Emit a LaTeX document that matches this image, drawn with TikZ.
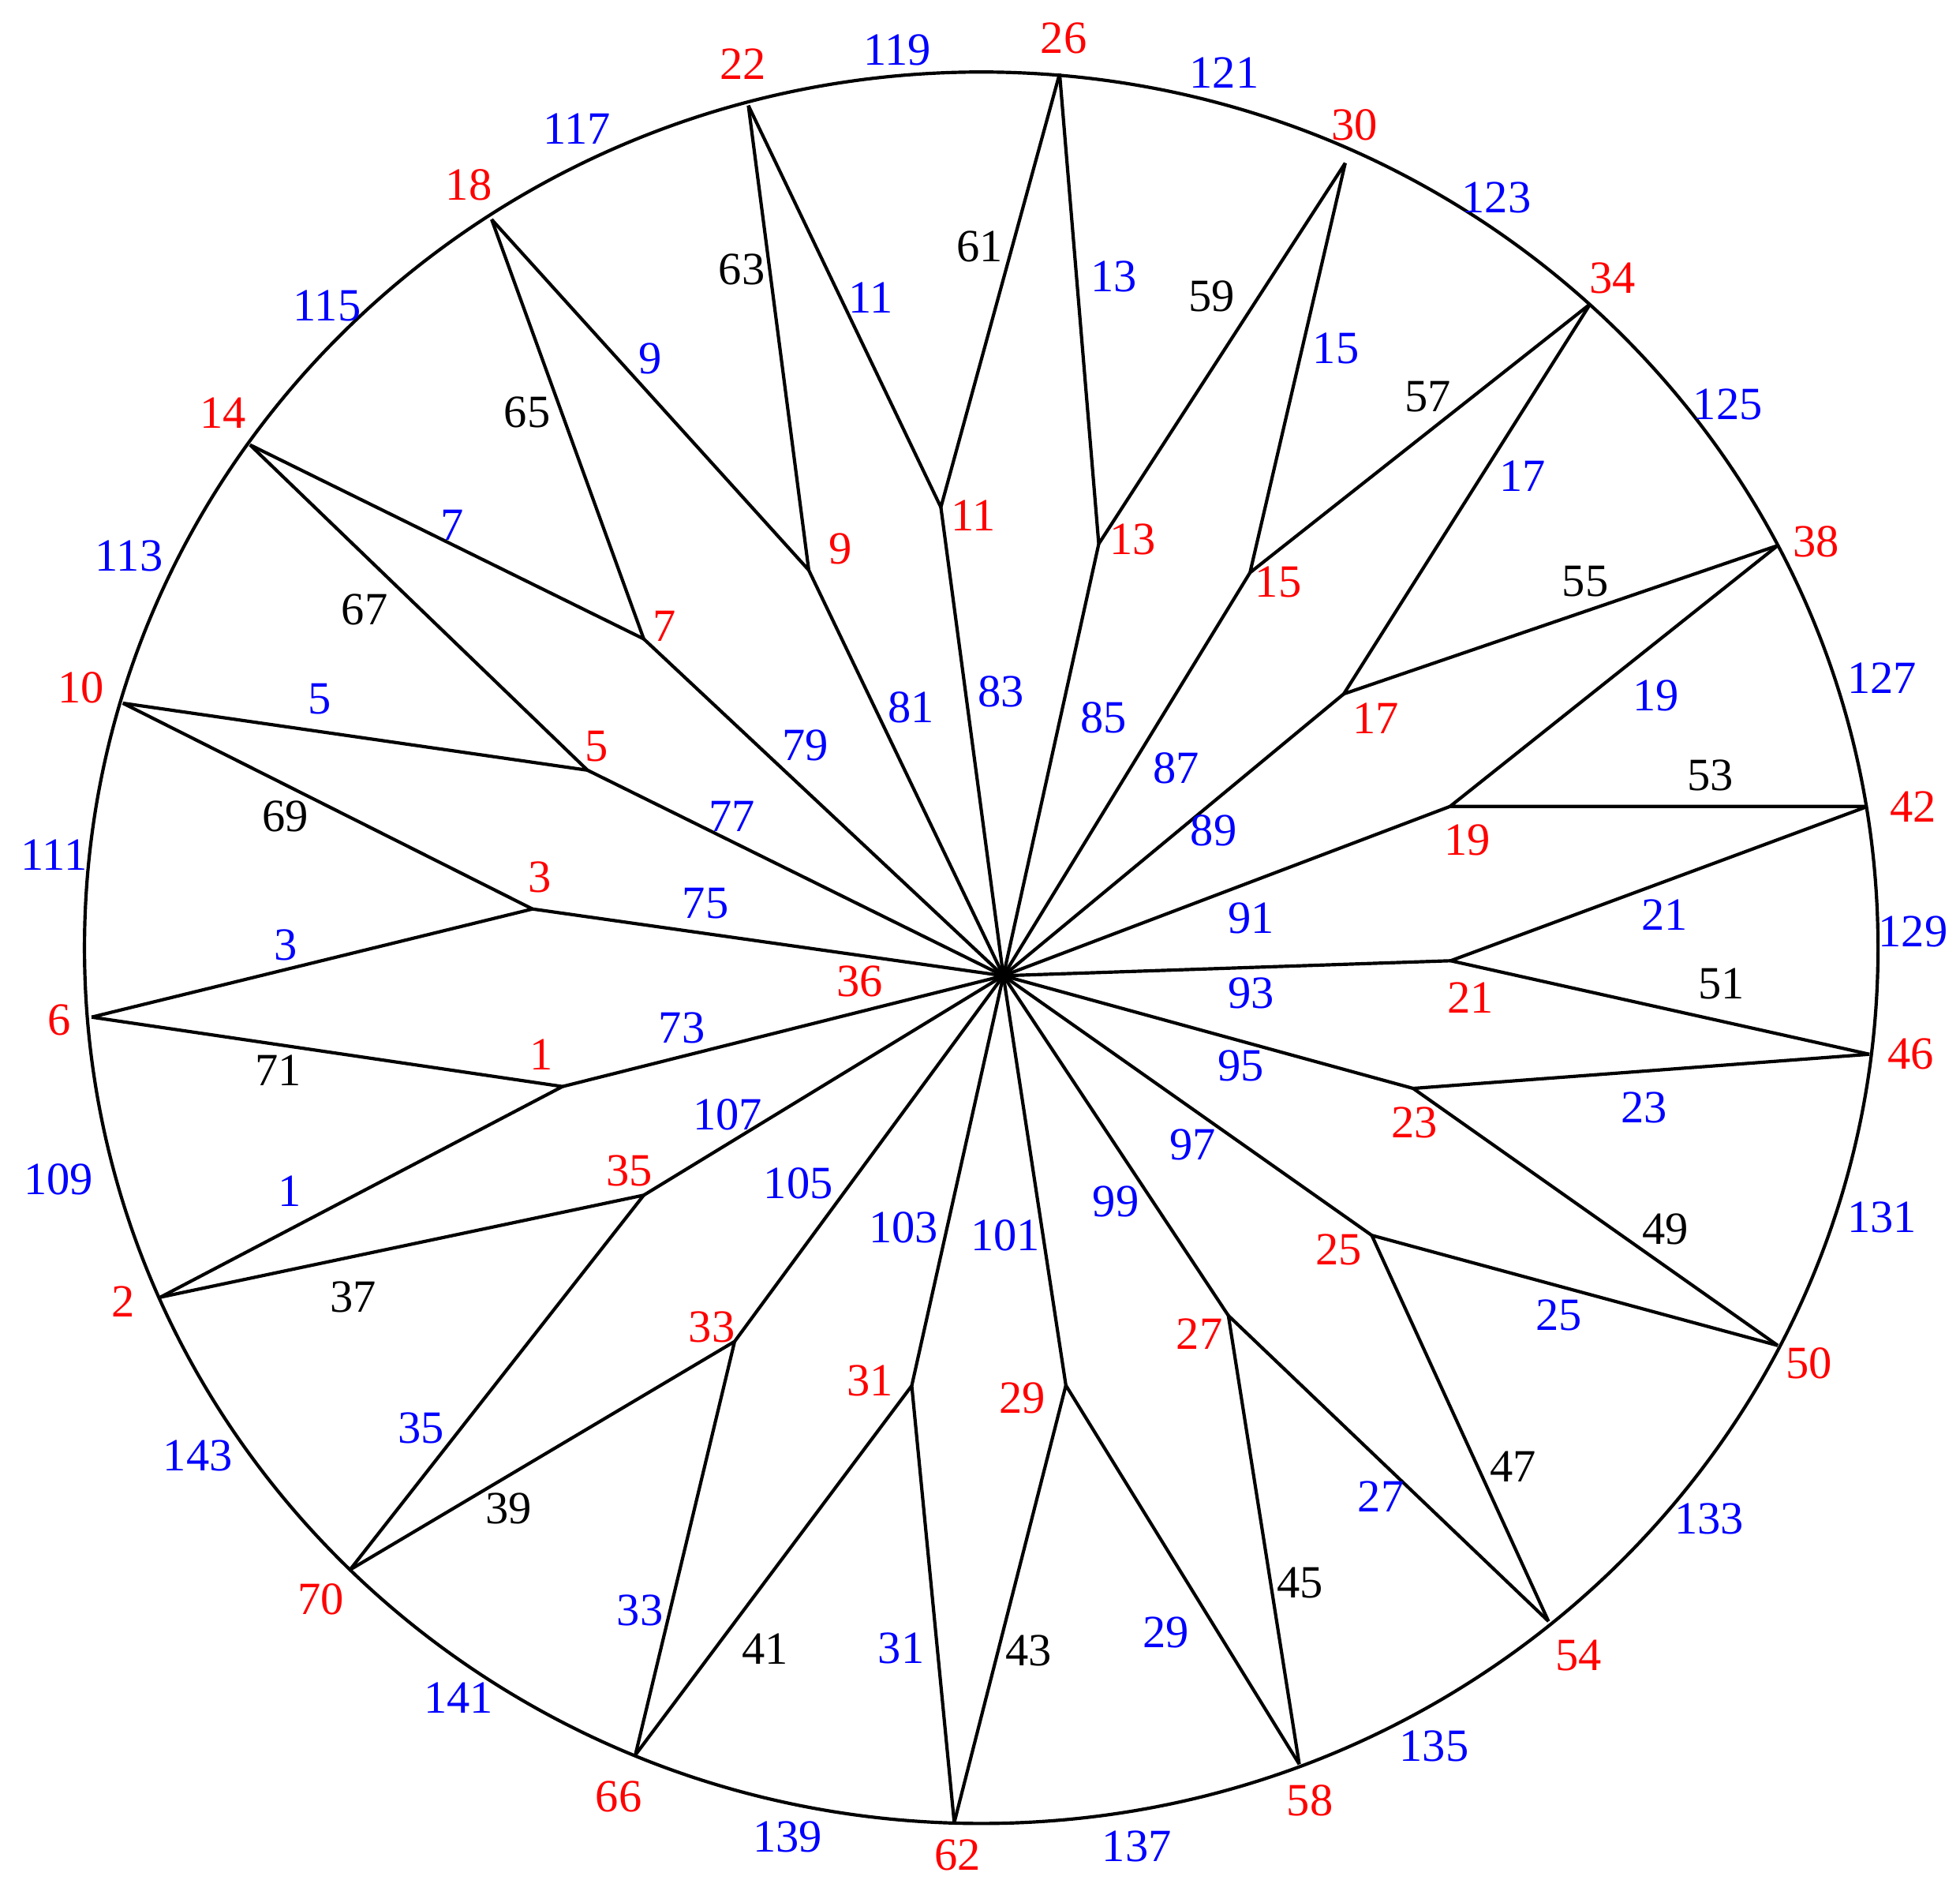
\documentclass[tikz,border=0pt]{standalone}
\usepackage{fontspec}
\setmainfont{Liberation Serif}
\tikzset{
  vertexnum/.style={text=red, inner sep=0pt, font=\fontsize{10.5}{12}\selectfont},
  edgenum/.style={text=blue, inner sep=0pt, font=\fontsize{10.5}{12}\selectfont},
  chordnum/.style={text=black, inner sep=0pt, font=\fontsize{10.5}{12}\selectfont}
}

\begin{document}
\begin{tikzpicture}[x=0.01cm, y=-0.01cm, line width=0.75pt]
  \useasboundingbox (0,0) rectangle (1568,1515);
  % rim
  \draw (785,758) ellipse [x radius=7.17cm, y radius=7cm];
  % vertices on the rim
  \foreach \n/\x/\y in {2/128.3/1037.5, 6/73.3/813.5, 10/98.3/562.4,
      14/200/355.8, 18/393.3/175.5, 22/598.7/84.4, 26/847.7/58.9,
      30/1076.2/130.4, 34/1272.2/243.1, 38/1422.2/436.3, 42/1494/645,
      46/1495.5/843.2, 50/1422.2/1076.1, 54/1238.8/1296.7, 58/1039.4/1411,
      62/763.4/1457.7, 66/508.3/1403.6, 70/280/1255.5}
    \coordinate (o\n) at (\x,\y);
  % inner vertices
  \foreach \n/\x/\y in {1/450/869, 3/426/727, 5/470/616, 7/515/511,
      9/647/456, 11/752.7/405.7, 13/879/435, 15/1000/458, 17/1075/555,
      19/1160/645, 21/1160.5/768.4, 23/1130.5/870.5, 25/1097.4/988,
      27/982.7/1052.2, 29/852.7/1108, 31/729.4/1108.3, 33/587.7/1072.9,
      35/515/955.9}
    \coordinate (i\n) at (\x,\y);
  \coordinate (c) at (802.7,780.4);
  % spokes
  \foreach \k in {1,3,...,35}{
    \pgfmathtruncatemacro\oa{2*\k}
    \pgfmathtruncatemacro\ob{mod(2*\k+4,72)}
    \draw (o\oa) -- (i\k) -- (o\ob);
    \draw (i\k) -- (c);
  }
  % vertex numbers
  \foreach \n/\x/\y in {2/98.3/1040.7, 6/47.7/815.8, 10/65/550.1,
      14/178.3/330, 18/375/148.1, 22/594.4/51.5, 26/851/30.6,
      30/1083.8/99.8, 34/1289.8/222.2, 38/1452.8/433.1, 42/1530.5/645.1,
      46/1528.8/843.2, 50/1447.2/1090.6, 54/1262.8/1324.1, 58/1048/1440,
      62/766/1483.4, 66/495/1436.8, 70/256.7/1279,
      1/433.3/843.2, 3/431.7/701.5, 5/477.3/596.8, 7/531.4/500.8,
      9/672.3/438.8, 11/778.7/412.2, 13/906/431.5, 15/1022.7/465.3,
      17/1100.5/574.3, 19/1173.8/671.8, 21/1176.2/798.1, 23/1131.5/897.9,
      25/1071/999.6, 27/959.6/1066.9, 29/817.7/1118, 31/696/1104.1,
      33/569.4/1061.6, 35/503.3/936.5, 36/687.7/785.2}
    \node[vertexnum] (lv\n) at (\x,\y) {\n};
  % blue edge numbers
  \foreach \n/\x/\y in {1/231.7/952.6, 3/228.3/755.6, 5/256/559.1,
      7/361.7/420.2, 9/520/286.6, 11/696.7/238.3, 13/891/221.5,
      15/1068.8/278.5, 17/1218.2/380.9, 19/1324.8/556.6, 21/1331.5/732,
      23/1315.5/885.7, 25/1247.2/1052, 27/1104.8/1196.9, 29/932.7/1305.7,
      31/721/1318.6, 33/512/1288, 35/336.7/1142.1,
      73/545.4/822.2, 75/564.4/722.4, 77/585.4/653.2, 79/644.4/595.9,
      81/728.7/565.6, 83/801/553.3, 85/882.7/574.3, 87/941/614.5,
      89/971/664.4, 91/1001/734.3, 93/1001/794.2, 95/992.7/852.2,
      97/954.4/915.6, 99/892.7/960.7, 101/804.4/988.1, 103/722.7/981.6,
      105/638.7/946.2, 107/582/891.5,
      109/46.7/943, 111/43.3/683.8, 113/103.3/444.4, 115/261.7/244.7,
      117/461.7/103, 119/717.7/40.3, 121/979.4/58, 123/1197.2/157.8,
      125/1382.2/323.6, 127/1505.5/542.1, 129/1530.5/745, 131/1505.5/973.6,
      133/1367.2/1214.6, 135/1147.2/1396.5, 137/909.4/1477, 139/630/1469,
      141/366.7/1357.9, 143/158.3/1164}
    \node[edgenum] (le\n) at (\x,\y) {\n};
  % black edge numbers
  \foreach \n/\x/\y in {37/282.7/1037.5, 39/406.7/1206.5, 41/612/1318.6,
      43/822.7/1320.2, 45/1040/1266, 47/1210.5/1172.7, 49/1332.2/983.2,
      51/1377.2/786.8, 53/1368.2/620.3, 55/1268.2/465.3, 57/1142.2/317.2,
      59/969.4/236.7, 61/783.7/197.1, 63/593.4/215.7, 65/421.7/330,
      67/291.7/487.8, 69/228.3/653.2, 71/222.7/856}
    \node[chordnum] (lc\n) at (\x,\y) {\n};
\end{tikzpicture}
\end{document}
